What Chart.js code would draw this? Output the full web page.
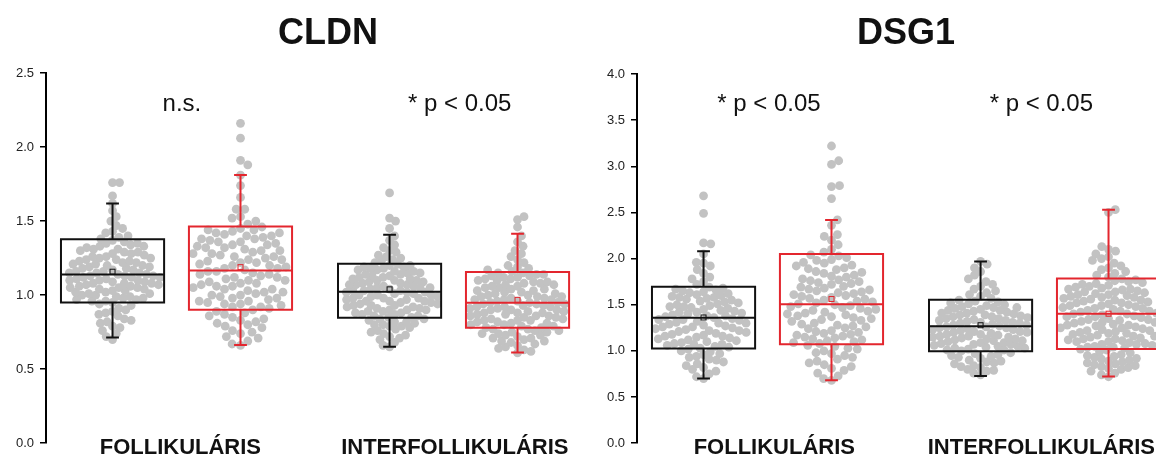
<!DOCTYPE html>
<html>
<head>
<meta charset="utf-8">
<script src="https://cdn.jsdelivr.net/npm/chart.js@4.4.1/dist/chart.umd.min.js"></script>
<style>
html,body{margin:0;padding:0;background:#fff;}
#wrap{position:relative;width:1156px;height:457px;overflow:hidden;}
canvas{position:absolute;top:0;}
</style>
</head>
<body>
<div id="wrap">
  <canvas id="c1" width="591" height="457" style="left:0"></canvas>
  <canvas id="c2" width="591" height="457" style="left:591px"></canvas>
</div>
<script>
// --- adatok: a képről leolvasott becsült értékek ---
const CATEGORIES = ['FOLLIKULÁRIS', 'INTERFOLLIKULÁRIS'];
const GROUP_X = [1, 2, 3.165, 4.165];   // fekete, piros, fekete, piros

// CLDN
const CLDN_TICKS = [0, 0.5, 1.0, 1.5, 2.0, 2.5];
const CLDN_LABELS = ['n.s.', '* p < 0.05'];
const CLDN_BOX_LOW  = [0.950, 0.902, 0.847, 0.780];
const CLDN_BOX_HIGH = [1.377, 1.464, 1.212, 1.156];
const CLDN_MEDIAN   = [1.139, 1.167, 1.023, 0.948];
const CLDN_MEAN     = [1.158, 1.189, 1.039, 0.968];
const CLDN_WHISK_LO = [0.714, 0.663, 0.652, 0.612];
const CLDN_WHISK_HI = [1.618, 1.812, 1.408, 1.414];

const CLDN_FOLL_A = [0.70,0.72,0.74,0.76,0.78,0.79,0.81,0.82,0.83,0.84,0.86,0.87,0.88,0.89,0.90,0.91,0.93,0.94,
  0.95,0.96,0.96,0.97,0.97,0.98,0.98,0.99,0.99,1.00,1.00,1.01,1.01,1.02,1.02,1.03,1.03,1.04,1.04,1.05,1.05,1.05,
  1.06,1.06,1.07,1.07,1.08,1.08,1.08,1.09,1.09,1.10,1.10,1.10,1.11,1.11,1.12,1.12,1.12,1.13,1.13,1.13,1.14,1.14,
  1.15,1.15,1.15,1.16,1.16,1.17,1.17,1.18,1.18,1.19,1.19,1.20,1.20,1.21,1.21,1.22,1.22,1.23,1.23,1.24,1.24,1.25,
  1.25,1.26,1.26,1.27,1.28,1.28,1.29,1.29,1.30,1.31,1.31,1.32,1.33,1.33,1.34,1.35,1.35,1.36,1.37,
  1.38,1.39,1.40,1.42,1.43,1.45,1.47,1.50,1.53,1.57,1.62,1.67,1.76,1.76];
const CLDN_FOLL_B = [0.66,0.67,0.69,0.71,0.72,0.74,0.75,0.76,0.78,0.79,0.80,0.81,0.82,0.83,0.84,0.85,0.86,0.87,0.88,0.89,
  0.90,0.91,0.92,0.92,0.93,0.94,0.94,0.95,0.96,0.96,0.97,0.98,0.98,0.99,1.00,1.00,1.01,1.02,1.02,1.03,1.04,1.04,
  1.05,1.06,1.06,1.07,1.08,1.08,1.09,1.10,1.10,1.11,1.12,1.12,1.13,1.14,1.14,1.15,1.16,1.16,1.17,1.18,1.18,1.19,
  1.20,1.20,1.21,1.22,1.22,1.23,1.24,1.24,1.25,1.26,1.26,1.27,1.28,1.28,1.29,1.30,1.30,1.31,1.32,1.32,1.33,1.34,
  1.34,1.35,1.36,1.36,1.37,1.38,1.38,1.39,1.40,1.40,1.41,1.42,1.42,1.43,1.44,1.44,1.45,1.46,
  1.48,1.50,1.52,1.53,1.58,1.58,1.66,1.74,1.81,1.88,1.91,2.06,2.16];
const CLDN_INTER_A = [0.65,0.66,0.68,0.70,0.71,0.72,0.73,0.74,0.75,0.76,0.77,0.78,0.79,0.79,0.80,0.80,0.81,0.82,0.82,0.83,0.84,0.84,
  0.85,0.85,0.86,0.86,0.87,0.87,0.88,0.88,0.89,0.89,0.90,0.90,0.90,0.91,0.91,0.92,0.92,0.93,0.93,0.93,0.94,0.94,
  0.95,0.95,0.96,0.96,0.96,0.97,0.97,0.98,0.98,0.98,0.99,0.99,1.00,1.00,1.00,1.01,1.01,1.02,1.02,1.02,1.03,1.03,
  1.03,1.04,1.04,1.05,1.05,1.05,1.06,1.06,1.07,1.07,1.07,1.08,1.08,1.09,1.09,1.10,1.10,1.10,1.11,1.11,1.12,1.12,
  1.13,1.13,1.14,1.14,1.15,1.15,1.16,1.16,1.17,1.17,1.18,1.18,1.19,1.19,1.20,1.20,1.21,
  1.22,1.23,1.24,1.25,1.26,1.27,1.29,1.30,1.32,1.34,1.37,1.40,1.45,1.50,1.52,1.69];
const CLDN_INTER_B = [0.61,0.62,0.63,0.64,0.65,0.66,0.67,0.68,0.69,0.69,0.70,0.71,0.71,0.72,0.73,0.73,0.74,0.74,0.75,0.75,0.76,0.76,0.77,0.77,
  0.78,0.78,0.79,0.79,0.80,0.80,0.81,0.81,0.82,0.82,0.83,0.83,0.83,0.84,0.84,0.85,0.85,0.86,0.86,0.86,0.87,0.87,
  0.88,0.88,0.88,0.89,0.89,0.90,0.90,0.90,0.91,0.91,0.92,0.92,0.92,0.93,0.93,0.94,0.94,0.94,0.95,0.95,0.95,0.96,
  0.96,0.97,0.97,0.97,0.98,0.98,0.99,0.99,0.99,1.00,1.00,1.01,1.01,1.02,1.02,1.03,1.03,1.04,1.04,1.05,1.05,1.06,
  1.06,1.07,1.07,1.08,1.08,1.09,1.09,1.10,1.10,1.11,1.11,1.12,1.12,1.13,1.13,1.14,1.14,1.15,1.15,
  1.16,1.17,1.18,1.19,1.20,1.22,1.24,1.26,1.28,1.30,1.33,1.36,1.40,1.46,1.51,1.53];

// DSG1
const DSG1_TICKS = [0, 0.5, 1.0, 1.5, 2.0, 2.5, 3.0, 3.5, 4.0];
const DSG1_LABELS = ['* p < 0.05', '* p < 0.05'];
const DSG1_BOX_LOW  = [1.027, 1.073, 0.995, 1.020];
const DSG1_BOX_HIGH = [1.696, 2.051, 1.555, 1.785];
const DSG1_MEDIAN   = [1.360, 1.505, 1.268, 1.403];
const DSG1_MEAN     = [1.362, 1.562, 1.278, 1.403];
const DSG1_WHISK_LO = [0.701, 0.683, 0.729, 0.723];
const DSG1_WHISK_HI = [2.079, 2.419, 1.969, 2.529];

const DSG1_FOLL_A = [0.70,0.72,0.75,0.78,0.80,0.82,0.84,0.86,0.88,0.90,0.91,0.93,0.94,0.96,0.97,0.99,1.00,1.02,
  1.03,1.04,1.05,1.06,1.07,1.07,1.08,1.09,1.10,1.11,1.12,1.13,1.14,1.15,1.16,1.16,1.17,1.18,1.19,1.20,1.21,1.22,
  1.22,1.23,1.24,1.25,1.26,1.26,1.27,1.28,1.29,1.30,1.30,1.31,1.32,1.33,1.34,1.34,1.35,1.36,1.37,1.38,1.38,1.39,
  1.40,1.41,1.42,1.42,1.43,1.44,1.45,1.46,1.47,1.48,1.48,1.49,1.50,1.51,1.52,1.53,1.54,1.55,1.56,1.57,1.58,1.58,
  1.59,1.60,1.61,1.62,1.63,1.64,1.65,1.66,1.67,1.68,1.69,
  1.72,1.75,1.78,1.80,1.84,1.88,1.92,1.95,1.96,2.05,2.16,2.17,2.49,2.68];
const DSG1_FOLL_B = [0.68,0.70,0.73,0.76,0.79,0.81,0.83,0.85,0.87,0.89,0.91,0.93,0.95,0.97,0.98,1.00,1.02,1.03,1.05,1.06,
  1.08,1.09,1.10,1.11,1.12,1.13,1.14,1.15,1.16,1.17,1.18,1.19,1.20,1.21,1.22,1.24,1.25,1.26,1.27,1.28,1.29,1.30,
  1.32,1.33,1.34,1.35,1.36,1.37,1.38,1.39,1.40,1.41,1.42,1.43,1.44,1.45,1.46,1.47,1.48,1.49,1.50,1.51,1.52,1.53,
  1.54,1.55,1.56,1.57,1.58,1.59,1.60,1.61,1.62,1.63,1.64,1.65,1.66,1.67,1.68,1.69,1.70,1.72,1.73,1.74,1.75,1.76,
  1.77,1.78,1.80,1.81,1.82,1.84,1.85,1.86,1.88,1.89,1.90,1.92,1.93,1.95,1.96,1.98,1.99,2.01,2.03,2.04,
  2.07,2.10,2.15,2.20,2.24,2.26,2.36,2.42,2.65,2.78,2.79,3.02,3.06,3.22];
const DSG1_INTER_A = [0.74,0.76,0.78,0.79,0.80,0.82,0.83,0.84,0.86,0.87,0.88,0.89,0.90,0.92,0.93,0.94,0.95,0.96,0.97,0.98,
  1.00,1.01,1.01,1.02,1.03,1.03,1.04,1.05,1.05,1.06,1.07,1.07,1.08,1.09,1.09,1.10,1.11,1.11,1.12,1.13,1.13,1.14,
  1.15,1.15,1.16,1.16,1.17,1.18,1.18,1.19,1.20,1.20,1.21,1.21,1.22,1.23,1.23,1.24,1.25,1.25,1.26,1.26,1.27,1.28,
  1.28,1.29,1.30,1.30,1.31,1.31,1.32,1.33,1.33,1.34,1.35,1.35,1.36,1.37,1.37,1.38,1.39,1.39,1.40,1.41,1.41,1.42,
  1.43,1.44,1.44,1.45,1.46,1.47,1.47,1.48,1.49,1.50,1.51,1.52,1.53,1.54,1.55,
  1.57,1.59,1.61,1.63,1.65,1.67,1.70,1.72,1.75,1.78,1.82,1.86,1.90,1.94,1.97];
const DSG1_INTER_B = [0.72,0.74,0.76,0.78,0.80,0.81,0.82,0.83,0.84,0.85,0.86,0.87,0.88,0.89,0.90,0.91,0.92,0.93,0.94,0.95,0.96,0.98,0.99,1.01,
  1.02,1.03,1.04,1.04,1.05,1.06,1.07,1.07,1.08,1.09,1.10,1.10,1.11,1.12,1.13,1.13,1.14,1.15,1.16,1.16,1.17,1.18,
  1.19,1.19,1.20,1.21,1.22,1.22,1.23,1.24,1.25,1.25,1.26,1.27,1.28,1.28,1.29,1.30,1.31,1.31,1.32,1.33,1.34,1.34,
  1.35,1.36,1.37,1.37,1.38,1.39,1.40,1.40,1.41,1.42,1.43,1.43,1.44,1.45,1.46,1.46,1.47,1.48,1.49,1.49,1.50,1.51,
  1.52,1.52,1.53,1.54,1.55,1.55,1.56,1.57,1.58,1.58,1.59,1.60,1.61,1.61,1.62,1.63,1.64,1.64,1.65,1.66,1.67,1.67,
  1.68,1.69,1.70,1.71,1.72,1.73,1.74,1.75,1.76,1.77,1.78,
  1.80,1.82,1.84,1.86,1.88,1.90,1.92,1.95,1.98,2.00,2.02,2.05,2.08,2.10,2.13,2.50,2.53];

// --- megjelenés ---
const FONT = '"Liberation Sans", Arial, Helvetica, sans-serif';
const BOX_COLORS = ['#111111', '#e3262e', '#111111', '#e3262e'];
const DOT_COLOR = '#c2c2c2';
const DOT_R = 4.4;
const SWARM_MAX = 48;    // px, a pontfelhő fél-szélessége
const BOX_HALF = 0.403;  // x egységben
const CAP_HALF = 0.05;
const X_MIN = 0.48, X_MAX = 0.48 + 545 / 129;

Chart.defaults.font.family = FONT;

// elhelyezési sorrend: aranymetszés szerinti permutáció (determinisztikus)
function placeOrder(n){
  return Array.from({length: n}, (_, k) => k).sort((a, b) => ((a * 0.618034) % 1) - ((b * 0.618034) % 1));
}

function swarmAt(ys, d, order){
  const placed = [], out = new Array(ys.length).fill(0);
  order.forEach(k => {
    const y = ys[k];
    const near = placed.filter(p => Math.abs(p.y - y) < d);
    const cands = [0];
    near.forEach(p => { const dx = Math.sqrt(d*d - (p.y-y)*(p.y-y)); cands.push(p.x + dx, p.x - dx); });
    cands.sort((a,b) => Math.abs(a) - Math.abs(b));
    const best = cands.find(c => near.every(p => (p.x-c)*(p.x-c) + (p.y-y)*(p.y-y) >= d*d - 0.01));
    placed.push({x: best, y}); out[k] = best;
  });
  return out;
}
// a pontok távolságát addig hangoljuk, amíg a felhő kitölti a doboz szélességét
function swarm(ys){
  const order = placeOrder(ys.length);
  let lo = 3, hi = 14, best = swarmAt(ys, lo, order);
  for (let k = 0; k < 18; k++){
    const d = (lo + hi) / 2, o = swarmAt(ys, d, order);
    if (Math.max(...o.map(Math.abs)) > SWARM_MAX) hi = d; else { lo = d; best = o; }
  }
  return best;
}

const boxPlugin = {
  id: 'boxes',
  afterDatasetsDraw(chart, args, o){
    const {ctx, scales: {x, y}} = chart;
    const p = o.panel;
    const unit = x.getPixelForValue(1) - x.getPixelForValue(0);
    ctx.save();
    GROUP_X.forEach((gx, i) => {
      const xc = x.getPixelForValue(gx), hw = BOX_HALF * unit, cw = CAP_HALF * unit;
      const yLo = y.getPixelForValue(p.boxLow[i]), yHi = y.getPixelForValue(p.boxHigh[i]);
      const yMed = y.getPixelForValue(p.median[i]);
      const yWl = y.getPixelForValue(p.whiskLo[i]), yWh = y.getPixelForValue(p.whiskHi[i]);
      ctx.strokeStyle = BOX_COLORS[i];
      ctx.lineWidth = 2;
      ctx.beginPath();
      ctx.rect(xc - hw, yHi, 2*hw, yLo - yHi);
      ctx.moveTo(xc - hw, yMed); ctx.lineTo(xc + hw, yMed);
      ctx.moveTo(xc, yHi); ctx.lineTo(xc, yWh);
      ctx.moveTo(xc, yLo); ctx.lineTo(xc, yWl);
      ctx.moveTo(xc - cw, yWh); ctx.lineTo(xc + cw, yWh);
      ctx.moveTo(xc - cw, yWl); ctx.lineTo(xc + cw, yWl);
      ctx.stroke();
      const ym = y.getPixelForValue(p.mean[i]);
      ctx.lineWidth = 1;
      ctx.strokeRect(xc - 2.5, ym - 2.5, 5, 5);
    });
    // feliratok
    ctx.fillStyle = '#111';
    ctx.textAlign = 'center';
    ctx.textBaseline = 'alphabetic';
    ctx.font = 'bold 36px ' + FONT;
    ctx.fillText(p.title, p.titleX, 44);
    ctx.font = '24px ' + FONT;
    p.labels.forEach((t, i) => ctx.fillText(t, x.getPixelForValue(p.labelX[i]), 111));
    ctx.font = 'bold 22px ' + FONT;
    CATEGORIES.forEach((t, i) => ctx.fillText(t, x.getPixelForValue(p.catX[i]), 454));
    ctx.restore();
  }
};

function buildPanel(canvas, p){
  const datasets = p.points.map(arr => ({
    data: arr.map(v => ({x: 0, y: v})),
    backgroundColor: DOT_COLOR, borderWidth: 0, pointRadius: DOT_R, pointHoverRadius: DOT_R
  }));
  const opts = {
    responsive: false, animation: false, events: [], devicePixelRatio: 1,
    layout: {padding: {top: p.top, bottom: 0, left: 0, right: 0}},
    plugins: {legend: {display: false}, tooltip: {enabled: false}, boxes: {panel: p}},
    scales: {
      x: {type: 'linear', min: X_MIN, max: X_MAX, display: false},
      y: {
        min: 0, max: p.ticks[p.ticks.length-1],
        afterBuildTicks: s => { s.ticks = p.ticks.map(v => ({value: v})); },
        afterFit: s => { s.width = 46; },
        ticks: {callback: v => Number(v).toFixed(1), font: {size: 13}, color: '#222', padding: 6},
        grid: {drawOnChartArea: false, drawTicks: true, tickLength: 6, color: '#000', lineWidth: 1.5},
        border: {display: true, color: '#000', width: 2}
      }
    }
  };
  const chart = new Chart(canvas.getContext('2d'), {type: 'scatter', data: {datasets}, options: opts, plugins: [boxPlugin]});
  // a rajzterület igazítása a célpixelekhez
  const ca = chart.chartArea;
  opts.layout.padding.top += p.top - ca.top;
  opts.layout.padding.bottom += ca.bottom - p.bottom;
  chart.update();
  // beeswarm elrendezés pixelben, majd vissza x egységbe
  const xs = chart.scales.x, ys = chart.scales.y;
  const unit = xs.getPixelForValue(1) - xs.getPixelForValue(0);
  p.points.forEach((arr, i) => {
    const offs = swarm(arr.map(v => ys.getPixelForValue(v)));
    chart.data.datasets[i].data = arr.map((v, k) => ({x: GROUP_X[i] + offs[k] / unit, y: v}));
  });
  chart.update();
  return chart;
}

buildPanel(document.getElementById('c1'), {
  title: 'CLDN', titleX: 328, top: 73, bottom: 450, ticks: CLDN_TICKS, labels: CLDN_LABELS,
  labelX: [1.542, 3.713], catX: [1.53, 3.675],
  boxLow: CLDN_BOX_LOW, boxHigh: CLDN_BOX_HIGH, median: CLDN_MEDIAN, mean: CLDN_MEAN,
  whiskLo: CLDN_WHISK_LO, whiskHi: CLDN_WHISK_HI,
  points: [CLDN_FOLL_A, CLDN_FOLL_B, CLDN_INTER_A, CLDN_INTER_B]
});
buildPanel(document.getElementById('c2'), {
  title: 'DSG1', titleX: 315, top: 74, bottom: 450, ticks: DSG1_TICKS, labels: DSG1_LABELS,
  labelX: [1.511, 3.640], catX: [1.553, 3.64],
  boxLow: DSG1_BOX_LOW, boxHigh: DSG1_BOX_HIGH, median: DSG1_MEDIAN, mean: DSG1_MEAN,
  whiskLo: DSG1_WHISK_LO, whiskHi: DSG1_WHISK_HI,
  points: [DSG1_FOLL_A, DSG1_FOLL_B, DSG1_INTER_A, DSG1_INTER_B]
});
</script>
</body>
</html>
